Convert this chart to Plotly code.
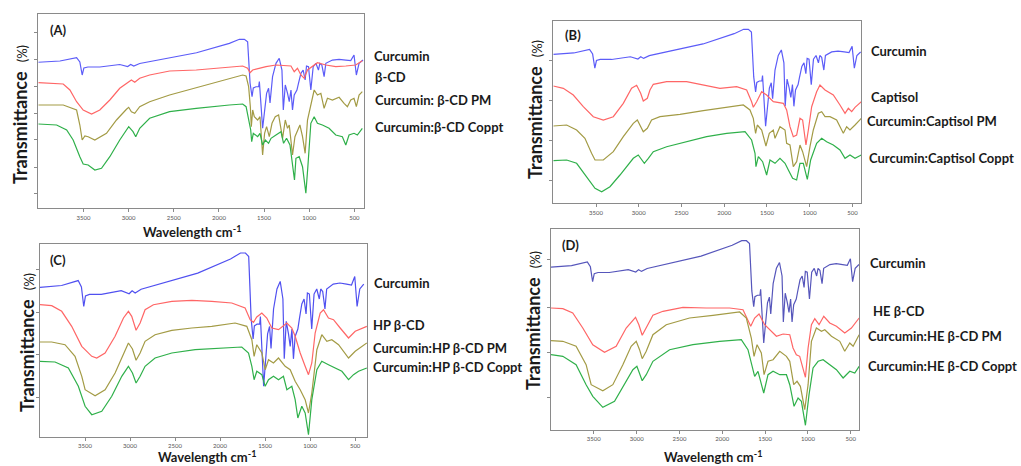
import plotly.graph_objects as go

# ---------------- data (wavenumber cm-1, transmittance a.u.) ----------------
X_TICKS = [3500, 3000, 2500, 2000, 1500, 1000, 500]
X_TICK_TEXT = ["3500", "3000", "2500", "2000", "1500", "1000", "500"]

# Curcumin spectrum, normalised (0 = strongest band, 100 = max transmittance)
CURCUMIN = [(4000, 74.2), (3760, 75.6), (3576, 79.3), (3540, 74.5), (3514, 59.9), (3495, 67.8),
            (3451, 68.9), (3319, 68.9), (3098, 71.7), (3010, 69.4), (2977, 71.7), (2943, 70.0),
            (2877, 72.8), (2623, 77.5), (2248, 84.9), (1884, 95.5), (1773, 100.0), (1718, 100.0),
            (1682, 97.3), (1655, 50.9), (1644, 43.0), (1633, 35.5), (1619, 45.3), (1589, 46.7),
            (1560, 46.7), (1552, 52.4), (1516, 0.0), (1472, 39.3), (1450, 44.9), (1434, 28.4),
            (1406, 58.0), (1368, 73.0), (1332, 78.7), (1302, 65.5), (1287, 20.6), (1265, 48.7),
            (1240, 39.3), (1221, 29.9), (1202, 43.0), (1185, 20.6), (1166, 37.4), (1136, 43.0),
            (1119, 50.6), (1092, 61.8), (1067, 65.5), (1045, 54.3), (1030, 70.0), (1008, 69.2),
            (982, 43.0), (956, 69.2), (926, 73.0), (898, 65.5), (882, 73.0), (860, 71.1),
            (835, 58.0), (816, 73.0), (743, 76.7), (669, 77.5), (595, 76.7), (540, 76.0),
            (504, 82.4), (478, 59.9), (448, 73.0), (404, 76.7)]
# curcumin baseline / span in each panel (A, B, C, D)
CUR_BASE = [80.0, 77.0, 50.7, 87.0]
CUR_SPAN = [89.0, 97.0, 133.3, 102.3]

# ---- Panel A ----
A_BCD = [(4000, 125.6), (3724, 124.3), (3650, 118.3), (3576, 106.6), (3503, 98.3), (3410, 94.3),
         (3319, 98.3), (3208, 108.3), (3098, 120.0), (3006, 126.6), (2969, 128.3), (2932, 126.0),
         (2877, 130.0), (2767, 133.3), (2546, 137.3), (2251, 138.3), (1884, 141.0), (1737, 142.3),
         (1682, 140.0), (1655, 135.6), (1626, 138.3), (1552, 140.0), (1478, 141.6), (1368, 143.3),
         (1257, 142.3), (1202, 142.3), (1166, 136.6), (1130, 140.0), (1092, 133.3), (1056, 130.0),
         (1019, 138.3), (964, 141.6), (909, 145.6), (816, 143.3), (706, 141.6), (595, 142.3),
         (485, 143.3), (412, 147.6)]
A_PM = [(4000, 103.3), (3724, 103.3), (3576, 98.3), (3540, 83.3), (3514, 68.3), (3484, 72.3),
        (3448, 71.6), (3374, 68.3), (3245, 75.0), (3134, 88.3), (3024, 99.0), (2999, 101.0),
        (2969, 96.6), (2932, 95.0), (2877, 101.6), (2767, 106.6), (2546, 113.3), (2251, 120.6),
        (1884, 130.0), (1737, 133.3), (1699, 132.3), (1671, 121.6), (1652, 101.6), (1641, 81.6),
        (1626, 98.3), (1608, 91.6), (1571, 88.3), (1545, 91.6), (1516, 53.3), (1494, 75.0),
        (1472, 81.6), (1442, 71.6), (1412, 85.0), (1376, 91.6), (1339, 93.3), (1295, 70.0),
        (1265, 88.3), (1240, 80.0), (1221, 83.3), (1185, 53.3), (1158, 71.6), (1130, 78.3),
        (1103, 83.3), (1074, 71.6), (1045, 55.0), (1019, 88.3), (982, 103.3), (945, 118.3),
        (909, 113.3), (871, 115.0), (835, 100.0), (798, 110.0), (743, 108.3), (669, 111.0),
        (614, 105.0), (577, 101.6), (540, 108.3), (504, 110.0), (478, 101.6), (448, 113.3),
        (412, 116.6)]
A_COP = [(4000, 84.3), (3797, 83.3), (3686, 78.3), (3614, 68.3), (3540, 51.6), (3503, 44.3),
         (3448, 43.3), (3374, 38.3), (3300, 40.0), (3208, 51.6), (3098, 68.3), (2999, 81.6),
         (2951, 76.6), (2921, 71.6), (2877, 80.0), (2767, 90.0), (2546, 96.6), (2251, 100.0),
         (1884, 103.3), (1737, 104.3), (1699, 101.6), (1671, 88.3), (1648, 78.3), (1637, 66.6),
         (1619, 75.0), (1571, 71.6), (1545, 75.0), (1516, 63.3), (1486, 68.3), (1450, 65.0),
         (1423, 70.0), (1368, 73.3), (1313, 76.6), (1284, 65.0), (1251, 70.0), (1213, 63.3),
         (1177, 41.6), (1163, 28.3), (1147, 50.0), (1111, 51.6), (1074, 41.6), (1037, 15.0),
         (1015, 41.6), (982, 85.0), (945, 91.6), (909, 85.0), (854, 83.3), (780, 80.0),
         (706, 73.3), (633, 71.6), (595, 63.3), (559, 73.3), (504, 75.0), (467, 73.3), (412, 80.0)]

# ---- Panel B ----
B_CAP = [(4000, 117.3), (3883, 115.0), (3766, 108.3), (3649, 96.6), (3532, 86.6), (3415, 83.3),
         (3298, 86.6), (3181, 100.0), (3084, 115.0), (3025, 118.0), (2978, 110.0), (2947, 102.3),
         (2900, 105.0), (2869, 113.3), (2830, 119.0), (2674, 121.6), (2440, 121.6), (2245, 118.3),
         (2050, 115.0), (1855, 116.6), (1738, 113.3), (1680, 101.6), (1660, 96.0), (1621, 101.6),
         (1562, 111.6), (1504, 108.3), (1426, 101.6), (1309, 100.0), (1270, 93.3), (1231, 76.6),
         (1192, 66.6), (1153, 68.3), (1114, 85.0), (1083, 83.3), (1044, 58.3), (1016, 73.3),
         (977, 96.6), (919, 111.6), (880, 118.3), (821, 113.3), (724, 108.3), (646, 98.3),
         (587, 90.0), (548, 95.0), (509, 91.6), (470, 96.0), (396, 101.6)]
B_PM = [(4000, 77.3), (3844, 78.3), (3727, 73.3), (3630, 65.0), (3552, 50.0), (3512, 43.3),
        (3415, 43.3), (3298, 51.6), (3181, 66.6), (3064, 80.0), (3017, 83.3), (2978, 77.3),
        (2947, 71.6), (2900, 75.0), (2850, 83.3), (2752, 86.6), (2518, 89.0), (2245, 92.6),
        (1972, 96.0), (1777, 98.3), (1699, 93.3), (1660, 85.0), (1633, 70.0), (1613, 78.3),
        (1562, 73.3), (1512, 57.3), (1473, 70.0), (1426, 73.3), (1406, 65.0), (1348, 76.6),
        (1289, 73.3), (1270, 60.0), (1231, 58.3), (1192, 36.6), (1153, 41.6), (1114, 58.3),
        (1083, 51.6), (1036, 36.6), (997, 56.6), (958, 73.3), (899, 90.0), (860, 91.6),
        (821, 86.6), (763, 86.6), (685, 83.3), (607, 70.0), (568, 76.6), (529, 73.3),
        (470, 78.3), (396, 85.0)]
B_COP = [(4000, 42.6), (3844, 43.3), (3727, 40.0), (3610, 26.6), (3512, 15.0), (3434, 11.6),
         (3337, 16.6), (3220, 28.3), (3064, 45.0), (3006, 48.3), (2967, 43.3), (2935, 40.0),
         (2888, 45.0), (2830, 51.6), (2674, 56.6), (2440, 61.6), (2206, 66.6), (1972, 70.0),
         (1757, 71.6), (1680, 63.3), (1640, 50.0), (1629, 36.6), (1601, 46.6), (1551, 41.6),
         (1504, 28.3), (1465, 43.3), (1406, 40.0), (1348, 45.0), (1289, 40.0), (1250, 33.3),
         (1200, 25.0), (1153, 23.3), (1114, 40.0), (1075, 40.0), (1028, 24.0), (989, 43.3),
         (919, 60.0), (860, 65.0), (802, 61.6), (724, 58.3), (646, 53.3), (587, 45.0),
         (529, 48.3), (470, 45.0), (396, 48.3)]

# ---- Panel C ----
C_HP = [(4000, 132.3), (3870, 131.3), (3759, 125.7), (3648, 110.7), (3536, 90.7), (3425, 80.7),
        (3370, 79.0), (3277, 84.0), (3166, 100.7), (3073, 119.0), (3018, 125.7), (2981, 120.7),
        (2933, 106.7), (2888, 114.0), (2833, 127.3), (2740, 132.3), (2536, 135.7), (2314, 136.7),
        (2092, 135.7), (1870, 134.0), (1722, 129.0), (1666, 117.3), (1629, 114.7), (1592, 120.0),
        (1536, 124.0), (1481, 119.0), (1425, 109.0), (1351, 107.3), (1258, 114.0), (1203, 109.0),
        (1166, 100.7), (1110, 84.0), (1055, 70.7), (1018, 62.3), (981, 74.0), (944, 104.0),
        (888, 124.0), (851, 127.3), (796, 119.0), (740, 117.3), (666, 109.0), (573, 99.0),
        (499, 105.7), (370, 110.7)]
C_PM = [(4000, 95.0), (3870, 95.0), (3722, 92.3), (3611, 80.7), (3536, 60.7), (3499, 47.3),
        (3388, 41.3), (3277, 47.3), (3166, 64.0), (3073, 84.0), (3018, 94.0), (2973, 88.0),
        (2933, 76.7), (2888, 84.0), (2833, 95.7), (2722, 102.3), (2536, 106.7), (2314, 109.0),
        (2092, 110.7), (1833, 114.0), (1703, 110.7), (1647, 97.3), (1622, 80.7), (1592, 92.3),
        (1536, 84.0), (1499, 67.3), (1462, 77.3), (1407, 74.0), (1351, 79.0), (1277, 70.7),
        (1221, 67.3), (1166, 55.7), (1110, 47.3), (1055, 37.3), (1018, 24.0), (981, 44.0),
        (925, 87.3), (870, 102.3), (814, 95.7), (759, 97.3), (684, 92.3), (573, 79.0),
        (499, 85.7), (370, 94.0)]
C_COP = [(4000, 75.7), (3833, 75.0), (3685, 69.0), (3574, 50.7), (3499, 30.7), (3425, 22.3),
         (3314, 25.7), (3203, 40.7), (3092, 60.7), (3018, 70.7), (2973, 64.0), (2933, 54.0),
         (2888, 60.7), (2833, 70.7), (2722, 79.0), (2536, 84.0), (2277, 87.3), (2018, 89.0),
         (1759, 90.0), (1684, 84.0), (1647, 70.7), (1622, 57.3), (1592, 65.7), (1536, 62.3),
         (1499, 50.7), (1462, 57.3), (1407, 60.7), (1351, 57.3), (1296, 60.7), (1258, 47.3),
         (1203, 50.7), (1166, 37.3), (1136, 19.0), (1092, 30.7), (1055, 24.0), (1018, 2.3),
         (981, 37.3), (925, 67.3), (870, 75.7), (796, 72.3), (722, 69.0), (647, 65.7),
         (573, 57.3), (518, 62.3), (462, 65.7), (370, 69.0)]

# ---- Panel D ----
D_HE = [(4000, 122.0), (3862, 121.3), (3746, 117.0), (3629, 102.0), (3512, 85.3), (3375, 77.7),
        (3239, 83.7), (3122, 102.0), (3013, 112.7), (2974, 105.3), (2935, 94.7), (2888, 102.0),
        (2810, 114.7), (2693, 118.7), (2459, 122.7), (2187, 122.0), (1914, 122.0), (1758, 120.3),
        (1700, 110.3), (1668, 103.7), (1622, 112.0), (1571, 116.0), (1505, 105.3), (1427, 98.7),
        (1368, 93.7), (1290, 96.0), (1212, 95.3), (1174, 82.0), (1135, 75.3), (1096, 73.7),
        (1057, 62.0), (1029, 52.7), (998, 82.0), (959, 105.3), (920, 111.3), (870, 105.3),
        (815, 113.7), (745, 107.0), (667, 103.7), (570, 97.0), (492, 102.0), (402, 112.0)]
D_PM = [(4000, 89.3), (3862, 88.7), (3707, 83.7), (3590, 65.3), (3531, 45.3), (3395, 39.3),
        (3278, 45.3), (3161, 65.3), (3064, 83.7), (3005, 88.7), (2966, 80.3), (2935, 71.3),
        (2888, 78.7), (2810, 95.3), (2654, 105.3), (2382, 112.0), (2109, 114.7), (1797, 118.0),
        (1719, 112.0), (1661, 92.0), (1629, 73.7), (1594, 85.3), (1544, 77.0), (1512, 55.3),
        (1466, 68.7), (1407, 70.3), (1329, 78.7), (1251, 73.7), (1212, 68.7), (1166, 45.3),
        (1127, 48.7), (1088, 43.7), (1037, 20.3), (998, 45.3), (959, 88.7), (901, 102.0),
        (842, 98.7), (803, 100.3), (725, 93.7), (628, 88.7), (570, 78.7), (511, 87.0),
        (472, 83.7), (402, 95.3)]
D_COP = [(4000, 75.3), (3862, 73.7), (3707, 65.3), (3590, 45.3), (3512, 33.7), (3395, 22.7),
         (3258, 28.7), (3141, 45.3), (3044, 60.3), (2997, 63.7), (2966, 55.3), (2935, 49.3),
         (2888, 55.3), (2810, 68.7), (2615, 80.3), (2343, 85.3), (2031, 88.7), (1778, 90.3),
         (1700, 80.3), (1641, 62.0), (1622, 53.7), (1583, 58.7), (1516, 37.0), (1466, 55.3),
         (1407, 58.7), (1329, 55.3), (1251, 55.3), (1212, 45.3), (1162, 23.7), (1115, 32.0),
         (1076, 28.7), (1029, 4.7), (987, 35.3), (940, 62.0), (881, 68.7), (823, 70.3),
         (745, 65.3), (667, 60.3), (589, 52.0), (511, 58.7), (453, 57.0), (402, 63.7)]

PANEL_TAGS = ["(A)", "(B)", "(C)", "(D)"]
SERIES_LABELS = [
    ["Curcumin", "β-CD", "Curcumin: β-CD PM", "Curcumin:β-CD Coppt"],
    ["Curcumin", "Captisol", "Curcumin:Captisol PM", "Curcumin:Captisol Coppt"],
    ["Curcumin", "HP β-CD", "Curcumin:HP β-CD PM", "Curcumin:HP β-CD Coppt"],
    ["Curcumin", "HE β-CD", "Curcumin:HE β-CD PM", "Curcumin:HE β-CD Coppt"],
]
PANEL_SERIES = [[A_BCD, A_PM, A_COP], [B_CAP, B_PM, B_COP], [C_HP, C_PM, C_COP], [D_HE, D_PM, D_COP]]
Y_TICKS = [[15, 41, 69, 95, 122, 149, 176], [22.6, 62.6, 102.6, 142.6],
           [40, 82.3, 125, 167.3], [32.7, 78, 122.7, 170.3]]

# ---------------- layout / style ----------------
W, H = 1021, 466
FONT = "Lato"
BLUE = ["#5c5cf8", "#5c5cf8", "#5050f0", "#5656bb"]
RED, OLIVE, GREEN = "#ff6666", "#a39b45", "#2fb04a"

# plot boxes in pixels: left, top, right, bottom
BOXES = [(38.3, 14, 364.3, 208.3), (553.3, 21, 861, 203.3), (40, 244, 367, 437), (551, 229, 859.3, 430)]
X_RANGES = [[4000, 390], [4000, 400], [4000, 368], [4000, 400]]

fig = go.Figure()

def px(x):
    return x / W

def py(y):
    return 1 - y / H

for i in range(4):
    l, t, r, b = BOXES[i]
    xa = "xaxis" if i == 0 else f"xaxis{i+1}"
    ya = "yaxis" if i == 0 else f"yaxis{i+1}"
    xr = "x" if i == 0 else f"x{i+1}"
    yr = "y" if i == 0 else f"y{i+1}"
    height = b - t
    common = dict(showgrid=False, zeroline=False, showline=True, mirror=True,
                  linecolor="#8a8a8a", linewidth=1.3, ticks="outside", ticklen=3,
                  tickcolor="#8a8a8a", tickwidth=1)
    fig.layout[xa] = dict(domain=[px(l), px(r)], range=X_RANGES[i], anchor=yr,
                          tickvals=X_TICKS, ticktext=X_TICK_TEXT,
                          tickfont=dict(family=FONT, size=6, color="#555"), **common)
    fig.layout[ya] = dict(domain=[py(b), py(t)], range=[0, height], anchor=xr,
                          tickvals=Y_TICKS[i], showticklabels=False, **common)

    # curcumin (same spectrum, scaled into this panel)
    cx = [p[0] for p in CURCUMIN]
    cy = [CUR_BASE[i] + CUR_SPAN[i] * p[1] / 100.0 for p in CURCUMIN]
    fig.add_trace(go.Scatter(x=cx, y=cy, mode="lines", line=dict(color=BLUE[i], width=1.2),
                             xaxis=xr, yaxis=yr, showlegend=False, hoverinfo="skip"))
    for series, col in zip(PANEL_SERIES[i], [RED, OLIVE, GREEN]):
        fig.add_trace(go.Scatter(x=[p[0] for p in series], y=[p[1] for p in series], mode="lines",
                                 line=dict(color=col, width=1.2), xaxis=xr, yaxis=yr,
                                 showlegend=False, hoverinfo="skip"))

ann = []
def add_text(x, y, text, size, xanchor="left", angle=0, color="#1a1a1a"):
    ann.append(dict(x=px(x), y=py(y), xref="paper", yref="paper", text=text, showarrow=False,
                    xanchor=xanchor, yanchor="middle", textangle=angle,
                    font=dict(family=FONT, size=size, color=color)))

# panel tags
TAG_POS = [(48, 30), (563, 35), (48, 260), (560, 245)]
for tag, (x, y) in zip(PANEL_TAGS, TAG_POS):
    add_text(x, y, f"<b>{tag}</b>", 13)

# series labels at the right of each panel
LABEL_POS = [
    [(372, 56), (373, 77), (373, 100), (373, 127)],
    [(869, 51), (869, 97), (865, 121), (867, 158)],
    [(372, 283), (371, 325), (371, 348), (371, 367)],
    [(868, 263), (871, 311), (866, 336), (866, 366)],
]
for labels, poss in zip(SERIES_LABELS, LABEL_POS):
    for lab, (x, y) in zip(labels, poss):
        add_text(x, y, f"<b>{lab}</b>", 13)

# y-axis titles
YT_POS = [(20, 115), (535, 110), (27, 343), (533, 321)]
for (x, y) in YT_POS:
    add_text(x, y, "<b>Transmittance</b>&nbsp;&nbsp;<span style='font-size:13px'>(%)</span>",
             18, xanchor="center", angle=-90)

# x-axis titles
XT_POS = [(192, 231), (207, 456), (713, 456)]
for (x, y) in XT_POS:
    add_text(x, y, "<b>Wavelength cm<sup>-1</sup></b>", 13, xanchor="center")

fig.update_layout(width=W, height=H, margin=dict(l=0, r=0, t=0, b=0),
                  paper_bgcolor="white", plot_bgcolor="white", annotations=ann,
                  font=dict(family=FONT))

fig.write_html("out.html", config={"displayModeBar": False},
               post_script="document.body.style.margin='0px';")
